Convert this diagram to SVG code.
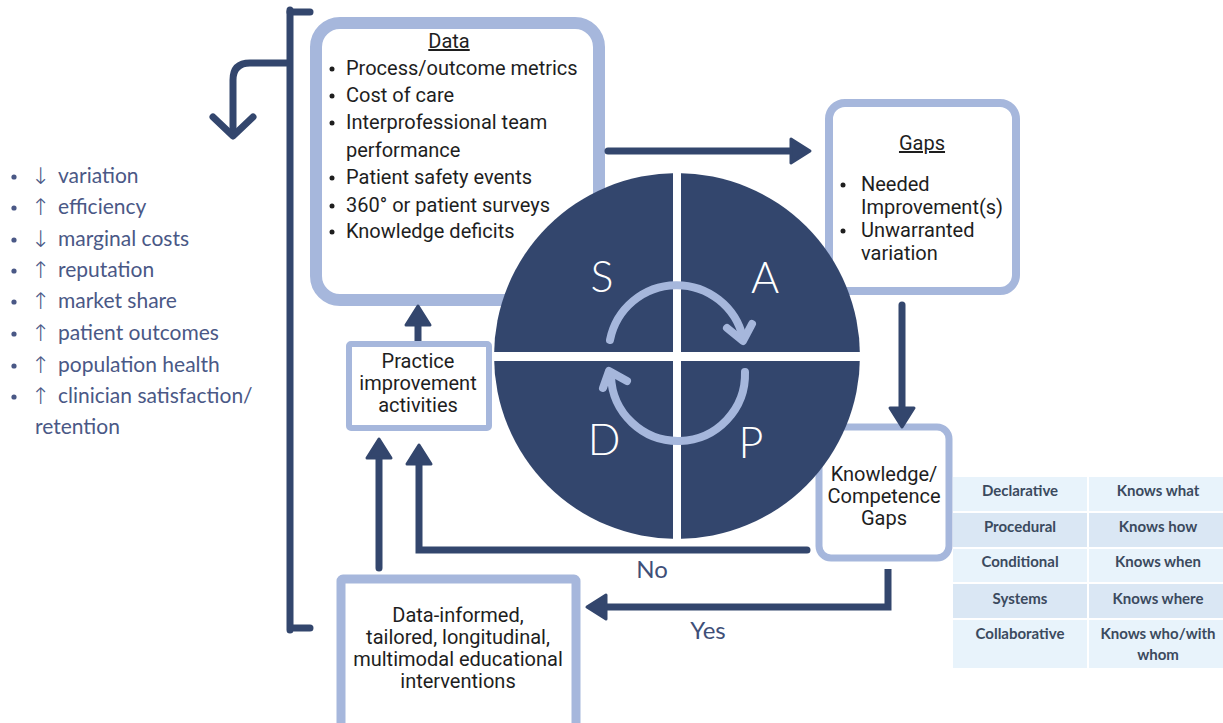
<svg xmlns="http://www.w3.org/2000/svg" width="1223" height="723" viewBox="0 0 1223 723">
  <style>
    .box { fill: #ffffff; stroke: #a6b7dc; }
    .txt { font-family: Roboto, "Liberation Sans", sans-serif; font-size: 20px; fill: #1e1e1e; }
    .mid { text-anchor: middle; }
    .lst { font-family: Lato, "Liberation Sans", sans-serif; font-size: 21px; fill: #4a5886; }
    .arw { font-family: "DejaVu Sans", sans-serif; font-weight: 300; font-size: 23px; fill: #4a5886; }
    .lbl { font-family: Lato, "Liberation Sans", sans-serif; font-size: 24px; fill: #3f4f78; }
    .pdsa { font-family: Lato, "Open Sans", sans-serif; font-weight: 300; font-size: 43px; fill: #ffffff; text-anchor: middle; }
    .tbl { font-family: Lato, "Liberation Sans", sans-serif; font-weight: bold; font-size: 15px; fill: #3b4a5e; text-anchor: middle; }
    .con { fill: none; stroke: #33466d; stroke-width: 7; }
    .cyc { fill: none; stroke: #a6b7dc; stroke-width: 8; stroke-linecap: round; stroke-linejoin: round; }
  </style>
  <defs>
    <marker id="head" markerUnits="userSpaceOnUse" markerWidth="26" markerHeight="30" refX="8" refY="13" orient="auto" overflow="visible">
      <path d="M1,1 L20,13 L1,25 Z" fill="#33466d" stroke="#33466d" stroke-width="3" stroke-linejoin="round"/>
    </marker>
  </defs>

  <!-- outcomes list on the left -->
  <g id="outcomes">
    <g fill="#4a5886">
      <circle cx="14" cy="177" r="2.6"/><circle cx="14" cy="208" r="2.6"/>
      <circle cx="14" cy="240" r="2.6"/><circle cx="14" cy="271" r="2.6"/>
      <circle cx="14" cy="302" r="2.6"/><circle cx="14" cy="334" r="2.6"/>
      <circle cx="14" cy="366" r="2.6"/><circle cx="14" cy="397" r="2.6"/>
    </g>
    <text class="arw" x="31" y="184">↓</text><text class="lst" x="58" y="183">variation</text>
    <text class="arw" x="31" y="215">↑</text><text class="lst" x="58" y="214">efficiency</text>
    <text class="arw" x="31" y="247">↓</text><text class="lst" x="58" y="246">marginal costs</text>
    <text class="arw" x="31" y="278">↑</text><text class="lst" x="58" y="277">reputation</text>
    <text class="arw" x="31" y="309">↑</text><text class="lst" x="58" y="308">market share</text>
    <text class="arw" x="31" y="341">↑</text><text class="lst" x="58" y="340">patient outcomes</text>
    <text class="arw" x="31" y="373">↑</text><text class="lst" x="58" y="372">population health</text>
    <text class="arw" x="31" y="404">↑</text><text class="lst" x="58" y="403">clinician satisfaction/</text>
    <text class="lst" x="35" y="434">retention</text>
  </g>

  <!-- Data box -->
  <g id="data">
    <rect class="box" x="316" y="23" width="283" height="277" rx="24" stroke-width="12"/>
    <text class="txt mid" x="449" y="48" text-decoration="underline">Data</text>
    <g fill="#1e1e1e">
      <circle cx="332" cy="69" r="2.5"/><circle cx="332" cy="96" r="2.5"/>
      <circle cx="332" cy="123" r="2.5"/><circle cx="332" cy="178" r="2.5"/>
      <circle cx="332" cy="206" r="2.5"/><circle cx="332" cy="232" r="2.5"/>
    </g>
    <text class="txt" x="346" y="75">Process/outcome metrics</text>
    <text class="txt" x="346" y="102">Cost of care</text>
    <text class="txt" x="346" y="129">Interprofessional team</text>
    <text class="txt" x="346" y="157">performance</text>
    <text class="txt" x="346" y="184">Patient safety events</text>
    <text class="txt" x="346" y="212">360° or patient surveys</text>
    <text class="txt" x="346" y="238">Knowledge deficits</text>
  </g>

  <!-- Gaps box -->
  <g id="gaps">
    <rect class="box" x="829" y="103" width="187" height="188" rx="16" stroke-width="8"/>
    <text class="txt mid" x="922" y="150" text-decoration="underline">Gaps</text>
    <g fill="#1e1e1e">
      <circle cx="843" cy="185" r="2.5"/><circle cx="843" cy="231" r="2.5"/>
    </g>
    <text class="txt" x="861" y="191">Needed</text>
    <text class="txt" x="861" y="214">Improvement(s)</text>
    <text class="txt" x="861" y="237">Unwarranted</text>
    <text class="txt" x="861" y="260">variation</text>
  </g>

  <!-- Knowledge / competence gaps box -->
  <g id="knowledge">
    <rect class="box" x="819" y="427" width="130" height="131" rx="12" stroke-width="7"/>
  </g>

  <!-- Practice improvement box -->
  <g id="practice">
    <rect class="box" x="349" y="344" width="140" height="84" rx="2" stroke-width="6"/>
    <text class="txt mid" x="418" y="368">Practice</text>
    <text class="txt mid" x="418" y="390">improvement</text>
    <text class="txt mid" x="418" y="412">activities</text>
  </g>

  <!-- Educational interventions box -->
  <g id="education">
    <rect class="box" x="341" y="579" width="235" height="150" rx="2" stroke-width="9"/>
    <text class="txt mid" x="458" y="622">Data-informed,</text>
    <text class="txt mid" x="458" y="644">tailored, longitudinal,</text>
    <text class="txt mid" x="458" y="666">multimodal educational</text>
    <text class="txt mid" x="458" y="688">interventions</text>
  </g>

  <!-- PDSA wheel -->
  <g id="pdsa">
    <circle cx="677" cy="356" r="183" fill="#33466d"/>
    <rect x="673" y="172" width="8" height="368" fill="#ffffff"/>
    <rect x="494" y="352" width="366" height="9" fill="#ffffff"/>
    <text class="pdsa" x="602" y="292">S</text>
    <text class="pdsa" x="765" y="293">A</text>
    <text class="pdsa" x="604" y="455">D</text>
    <text class="pdsa" x="751" y="458">P</text>
    <path class="cyc" d="M610,340 A68,68 0 0 1 743,338"/>
    <path class="cyc" d="M727,328 L743,341 L752,324"/>
    <path class="cyc" d="M745,372 A67,67 0 0 1 611,376"/>
    <path class="cyc" d="M627,381 L609,371 L603,388"/>
  </g>

  <!-- knowledge box label sits over the wheel edge -->
  <g id="knowledge-label">
    <text class="txt mid" x="884" y="481">Knowledge/</text>
    <text class="txt mid" x="884" y="503">Competence</text>
    <text class="txt mid" x="884" y="525">Gaps</text>
  </g>

  <!-- competence table -->
  <g id="table">
    <rect x="953" y="477" width="270" height="35" fill="#e8f3fb"/>
    <rect x="953" y="512" width="270" height="36" fill="#dae7f4"/>
    <rect x="953" y="548" width="270" height="35" fill="#e8f3fb"/>
    <rect x="953" y="583" width="270" height="36" fill="#dae7f4"/>
    <rect x="953" y="619" width="270" height="49" fill="#e8f3fb"/>
    <g stroke="#ffffff" stroke-width="2">
      <line x1="1088" y1="477" x2="1088" y2="668"/>
      <line x1="953" y1="512" x2="1223" y2="512"/>
      <line x1="953" y1="548" x2="1223" y2="548"/>
      <line x1="953" y1="583" x2="1223" y2="583"/>
      <line x1="953" y1="619" x2="1223" y2="619"/>
    </g>
    <text class="tbl" x="1020" y="496">Declarative</text><text class="tbl" x="1158" y="496">Knows what</text>
    <text class="tbl" x="1020" y="532">Procedural</text><text class="tbl" x="1158" y="532">Knows how</text>
    <text class="tbl" x="1020" y="567">Conditional</text><text class="tbl" x="1158" y="567">Knows when</text>
    <text class="tbl" x="1020" y="604">Systems</text><text class="tbl" x="1158" y="604">Knows where</text>
    <text class="tbl" x="1020" y="639">Collaborative</text><text class="tbl" x="1158" y="639">Knows who/with</text>
    <text class="tbl" x="1158" y="660">whom</text>
  </g>

  <!-- connectors -->
  <g id="connectors">
    <path class="con" d="M290,12 H310" stroke-width="9" stroke-linecap="round"/>
    <path class="con" d="M290,10 V630 M290,628 H310" stroke-width="9" stroke-linecap="round"/>
    <path class="con" d="M290,63 H250 Q233,63 233,80 V135" stroke-width="9"/>
    <path class="con" d="M213,117 L233,136 L253,117" stroke-width="9" stroke-linecap="round" stroke-linejoin="round"/>
    <path class="con" d="M608,151 H798" stroke-linecap="round" marker-end="url(#head)"/>
    <path class="con" d="M902,305 V415" stroke-linecap="round" marker-end="url(#head)"/>
    <path class="con" d="M418,341 V318" marker-end="url(#head)"/>
    <path class="con" d="M379,568 V451" stroke-linecap="round" marker-end="url(#head)"/>
    <path class="con" d="M807,550 H419 V457" stroke-linecap="round" marker-end="url(#head)"/>
    <path class="con" d="M888,569 V607 H599" marker-end="url(#head)"/>
    <text class="lbl" x="652" y="578" text-anchor="middle">No</text>
    <text class="lbl" x="708" y="639" text-anchor="middle">Yes</text>
  </g>
</svg>
